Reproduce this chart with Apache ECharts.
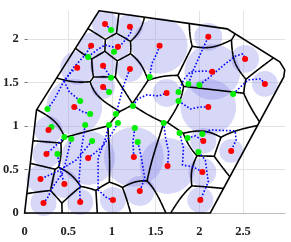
<!DOCTYPE html>
<html><head><meta charset="utf-8">
<script src="https://cdn.jsdelivr.net/npm/echarts@6/dist/echarts.min.js"></script>
<style>html,body{margin:0;padding:0;background:#fff;}#chart{width:291px;height:242px;}</style>
</head><body><div id="chart"></div>
<script>
// Final positions (red) and sensing radii (data units)
const finalX = [0.920,1.205,0.761,1.068,0.602,0.898,1.205,0.898,0.568,1.545,2.102,2.523,2.148,2.750,1.625,2.102,0.273,0.250,0.727,1.250,0.182,0.455,1.318,0.216,0.636,1.011,2.045,1.636,2.034,2.011,2.364];
const finalY = [2.172,2.138,1.920,1.908,1.667,1.690,1.655,1.448,1.218,1.920,2.023,1.770,1.621,1.483,1.379,1.218,0.954,0.678,0.632,0.644,0.391,0.333,0.253,0.115,0.126,0.149,0.828,0.540,0.471,0.149,0.713];
const radius = [0.149,0.149,0.149,0.137,0.194,0.149,0.149,0.137,0.320,0.320,0.160,0.160,0.320,0.149,0.160,0.320,0.160,0.160,0.309,0.343,0.160,0.160,0.171,0.149,0.149,0.149,0.149,0.320,0.160,0.149,0.137];
// Initial positions (green)
const startX = [0.989,1.023,0.727,0.989,1.432,0.966,0.636,0.750,0.261,1.239,1.045,1.875,2.000,1.761,2.386,1.761,0.307,0.693,0.966,1.068,1.261,0.455,0.534,0.773,1.295,0.375,1.591,1.773,1.864,2.034,1.989];
const startY = [2.103,1.851,1.793,1.552,1.563,1.391,1.287,1.138,1.195,1.230,1.138,1.483,1.471,1.391,1.368,1.287,0.989,1.011,1.011,1.034,0.977,0.874,0.851,0.828,0.816,0.678,1.034,0.920,0.862,0.908,0.701];
// Index of the final position reached by each trajectory
const target = [0,1,3,5,9,7,2,8,4,14,6,10,11,12,13,15,16,24,25,18,19,17,23,20,22,21,27,28,26,30,29];
// Intermediate trajectory points
const via = [
 [],
 [[1.114,1.943],[1.182,2.023],[1.227,2.092]],
 [[0.830,1.874],[0.920,1.931],[1.000,1.908]],
 [[0.943,1.621]],
 [[1.455,1.713],[1.511,1.828]],
 [],
 [[0.511,1.391],[0.455,1.506],[0.557,1.667],[0.693,1.816]],
 [[0.670,1.161]],
 [[0.330,1.287],[0.398,1.414],[0.455,1.529],[0.534,1.621]],
 [[1.295,1.310],[1.398,1.356],[1.534,1.345]],
 [[1.080,1.264],[1.125,1.437],[1.170,1.563]],
 [[1.932,1.644],[2.023,1.851]],
 [[2.136,1.575],[2.295,1.713],[2.420,1.805],[2.500,1.828]],
 [[1.818,1.529],[1.898,1.621],[2.057,1.632]],
 [[2.557,1.529],[2.705,1.540]],
 [[1.898,1.195],[2.011,1.218]],
 [],
 [[0.670,0.862],[0.648,0.724],[0.625,0.402]],
 [[0.920,0.839],[0.841,0.632],[0.841,0.264],[0.943,0.172]],
 [[0.989,0.897],[0.875,0.747]],
 [[1.239,0.816]],
 [[0.364,0.782]],
 [[0.489,0.667],[0.443,0.471],[0.330,0.310],[0.261,0.172]],
 [[0.591,0.609],[0.364,0.471]],
 [[1.330,0.667],[1.375,0.402]],
 [[0.409,0.494]],
 [[1.614,0.862],[1.648,0.701]],
 [[1.818,0.747],[1.807,0.552],[1.932,0.529]],
 [[1.955,0.885]],
 [[2.125,0.954],[2.409,0.943],[2.420,0.839]],
 [[2.068,0.609],[2.102,0.356]]
];
// Domain boundary
const domainX = [0.852,2.318,2.920,2.977,2.966,2.125,0.000,0.136];
const domainY = [2.322,2.115,1.736,1.644,1.563,0.000,0.000,1.184];
// Axes
const xTicks = [0,0.5,1,1.5,2,2.5];
const yTicks = [0,0.5,1,1.5,2];
const xMax = 2.98, yMax = 2.32;

// ---- additively weighted Voronoi (Apollonius) cells, computed from sites + radii ----
const N = finalX.length;
function fw(k,x,y){const dx=x-finalX[k],dy=y-finalY[k];return Math.sqrt(dx*dx+dy*dy)-radius[k];}
const dom = domainX.map((x,i)=>[x,domainY[i]]);
function inside(p){
  let s=0;
  for(let i=0;i<dom.length;i++){
    const a=dom[i],b=dom[(i+1)%dom.length];
    const c=(b[0]-a[0])*(p[1]-a[1])-(b[1]-a[1])*(p[0]-a[0]);
    if(c>1e-9){ if(s<0) return false; s=1; } else if(c<-1e-9){ if(s>0) return false; s=-1; }
  }
  return true;
}
const h=0.005, NX=Math.ceil(3.0/h)+1, NY=Math.ceil(2.4/h)+1;
const lab=new Int16Array(NX*NY);
for(let i=0;i<NX;i++)for(let j=0;j<NY;j++){
  const x=i*h,y=j*h;let best=0,bv=Infinity;
  for(let k=0;k<N;k++){const v=fw(k,x,y);if(v<bv){bv=v;best=k;}}
  lab[i*NY+j]=best;
}
const cellSegs=[];
for(let i=0;i<NX-1;i++)for(let j=0;j<NY-1;j++){
  const c=[[i,j],[i+1,j],[i+1,j+1],[i,j+1]];
  const L=c.map(q=>lab[q[0]*NY+q[1]]);
  if(L[0]===L[1]&&L[1]===L[2]&&L[2]===L[3]) continue;
  const pts=[];
  for(let e=0;e<4;e++){
    const A=c[e],B=c[(e+1)%4],la=L[e],lb=L[(e+1)%4];
    if(la===lb) continue;
    const ax=A[0]*h,ay=A[1]*h,bx=B[0]*h,by=B[1]*h;
    const gA=fw(la,ax,ay)-fw(lb,ax,ay),gB=fw(la,bx,by)-fw(lb,bx,by);
    let t=(gA-gB)!==0?gA/(gA-gB):0.5;t=Math.max(0,Math.min(1,t));
    pts.push([ax+t*(bx-ax),ay+t*(by-ay)]);
  }
  let segs=[];
  if(pts.length===2) segs.push([pts[0],pts[1]]);
  else if(pts.length>2){
    const cx=pts.reduce((s,p)=>s+p[0],0)/pts.length,cy=pts.reduce((s,p)=>s+p[1],0)/pts.length;
    pts.forEach(p=>segs.push([p,[cx,cy]]));
  }
  segs.forEach(sg=>{ if(inside(sg[0])&&inside(sg[1])) cellSegs.push({coords:sg}); });
}

const circles = finalX.map((x,i)=>[x,finalY[i],radius[i]]);
const trajectories = startX.map((x,i)=>({coords:[[x,startY[i]]].concat(via[i]).concat([[finalX[target[i]],finalY[target[i]]]])}));

const labelFont={fontFamily:'Liberation Serif',fontWeight:'bold',fontSize:12.5,color:'#222'};
const chart=echarts.init(document.getElementById('chart'),null,{renderer:'canvas'});
chart.setOption({
  animation:false,
  grid:{left:23,right:291-23-Math.round(xMax*88),top:11,bottom:29},
  xAxis:{type:'value',min:0,max:xMax,interval:xTicks[1]-xTicks[0],offset:4,
    axisLine:{show:true,lineStyle:{color:'#bdbdbd',width:1}},
    axisTick:{show:false},
    axisLabel:Object.assign({margin:8,showMaxLabel:false},labelFont),
    splitLine:{show:true,showMinLine:false,showMaxLine:false,lineStyle:{color:'#e3e3e3',width:1}}},
  yAxis:{type:'value',min:0,max:yMax,interval:yTicks[1]-yTicks[0],
    axisLine:{show:false},
    axisTick:{show:true,inside:true,length:3,lineStyle:{color:'#777'}},
    axisLabel:Object.assign({margin:6,showMaxLabel:false},labelFont),
    splitLine:{show:true,showMinLine:false,showMaxLine:false,lineStyle:{color:'#e3e3e3',width:1}}},
  series:[
    {type:'custom',z:1,data:circles,silent:true,
     renderItem:function(params,api){
       const c=api.coord([api.value(0),api.value(1)]);
       const s=api.size([api.value(2),api.value(2)]);
       return {type:'circle',shape:{cx:c[0],cy:c[1],r:(s[0]+s[1])/2},style:{fill:'rgba(140,140,235,0.35)'}};
     }},
    {type:'lines',coordinateSystem:'cartesian2d',z:2,large:true,largeThreshold:1,data:cellSegs,silent:true,
     lineStyle:{color:'#000',width:1.6,opacity:1}},
    {type:'custom',z:3,data:[[0,0]],silent:true,
     renderItem:function(params,api){
       const pts=dom.map(p=>api.coord(p));
       return {type:'polygon',shape:{points:pts},style:{fill:'none',stroke:'#000',lineWidth:1.6}};
     }},
    {type:'lines',coordinateSystem:'cartesian2d',polyline:true,z:4,data:trajectories,silent:true,
     lineStyle:{color:'#0000ff',width:1.6,type:[1.6,1.9],opacity:1}},
    {type:'scatter',z:5,symbolSize:6,data:startX.map((x,i)=>[x,startY[i]]),itemStyle:{color:'#00ee00',opacity:1},silent:true},
    {type:'scatter',z:6,symbolSize:6,data:finalX.map((x,i)=>[x,finalY[i]]),itemStyle:{color:'#ff0000',opacity:1},silent:true}
  ]
});
</script></body></html>
